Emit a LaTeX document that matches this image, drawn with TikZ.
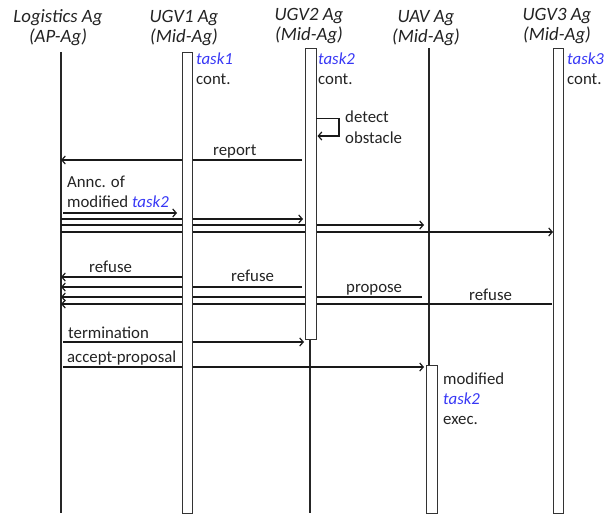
\documentclass[tikz,border=0pt]{standalone}
\usepackage{fontspec}
\setmainfont{Carlito}
\usetikzlibrary{arrows.meta}
\definecolor{txt}{RGB}{35,35,35}
\definecolor{tblue}{RGB}{55,55,245}
\begin{document}
\begin{tikzpicture}[x=1pt,y=-1pt,
  life/.style={line width=1.4pt,draw=black!85},
  actbox/.style={line width=0.9pt,draw=black!80,fill=white},
  msg/.style={line width=1.4pt,draw=black!90,-{Straight Barb[length=3.5pt,width=8pt,line width=1.2pt]}},
  head/.style={font=\fontsize{18.8}{20}\selectfont\itshape,text=txt,align=center,inner sep=0pt},
  lbl/.style={font=\fontsize{16.8}{20}\selectfont,text=txt,anchor=base west,inner sep=0pt},
  tk/.style={text=tblue,font=\fontsize{16.8}{20}\selectfont\itshape}]
\useasboundingbox (0,0) rectangle (607,516);
% headers
\node[head] (hL) at (58,28) {Logistics Ag\\(AP-Ag)};
\node[head] (h1) at (184,28) {UGV1 Ag\\(Mid-Ag)};
\node[head] (h2) at (309,26) {UGV2 Ag\\(Mid-Ag)};
\node[head] (h3) at (426,28) {UAV Ag\\(Mid-Ag)};
\node[head] (h4) at (557,26) {UGV3 Ag\\(Mid-Ag)};
% lifelines
\coordinate (Ltop) at (61,52); \coordinate (Lbot) at (61,513);
\draw[life] (Ltop) -- (Lbot);
\coordinate (U2a) at (310,339); \coordinate (U2b) at (310,513);
\draw[life] (U2a) -- (U2b);
\coordinate (Va) at (429,48); \coordinate (Vb) at (429,365);
\draw[life] (Va) -- (Vb);
% messages
\draw[msg] (302,160) -- (61,160);
\node[lbl] (lrep) at (213,155) {report};
\node[lbl] (lann1) at (67,187) {Annc. of};
\node[lbl] (lann2) at (67,207) {modified {\itshape\color{tblue}task2}};
\draw[msg] (63,213) -- (177,213);
\draw[msg] (61,219) -- (303,219);
\draw[msg] (61,225) -- (424,225);
\draw[msg] (61,232) -- (553,232);
\draw[msg] (182,277) -- (61,277);
\node[lbl] (lref1) at (89,272) {refuse};
\draw[msg] (302,287) -- (61,287);
\node[lbl] (lref2) at (231,281) {refuse};
\draw[msg] (422,297) -- (61,297);
\node[lbl] (lprop) at (346,292.5) {propose};
\draw[msg] (552,304) -- (61,304);
\node[lbl] (lref3) at (469,300.5) {refuse};
\draw[msg] (63,342) -- (304,342);
\node[lbl] (lterm) at (68,338) {termination};
\draw[msg] (63,367) -- (424,367);
\node[lbl] (lacc) at (67,362.5) {accept-proposal};
% activation boxes
\draw[actbox] (182,52) rectangle (192.5,513);
\draw[actbox] (305.5,48) rectangle (316,339);
\draw[actbox] (426,365) rectangle (437,513);
\draw[actbox] (553,48) rectangle (563,513);
% box labels
\node[lbl,tk] (t1) at (196,65) {task1};
\node[lbl] (c1) at (196,85) {cont.};
\node[lbl,tk] (t2) at (318,65) {task2};
\node[lbl] (c2) at (318,85) {cont.};
\node[lbl,tk] (t3) at (567,65) {task3};
\node[lbl] (c3) at (567,85) {cont.};
% self message
\coordinate (s1) at (316,118.5); \coordinate (s2) at (339,136);
\draw[msg] (s1) -| (s2) -- (317.5,136);
\node[lbl] (ldet) at (345,123) {detect};
\node[lbl] (lobs) at (345,143) {obstacle};
\node[lbl] (lm1) at (443,384) {modified};
\node[lbl,tk] (lm2) at (443,404) {task2};
\node[lbl] (lm3) at (443,424) {exec.};
\end{tikzpicture}
\end{document}
